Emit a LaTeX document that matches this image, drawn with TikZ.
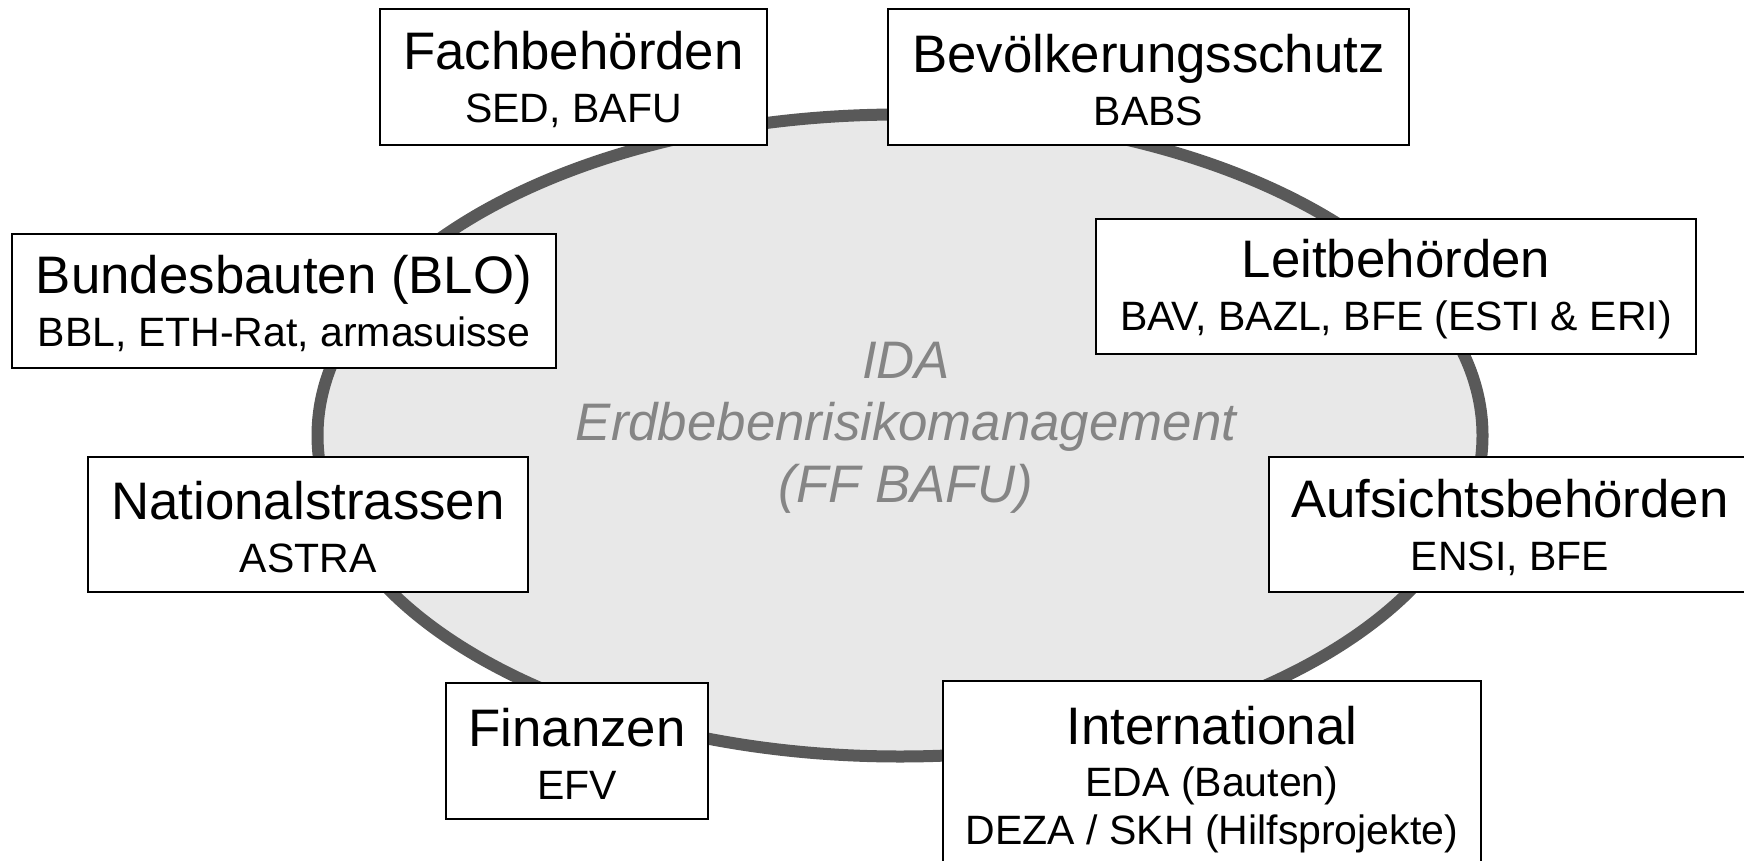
\documentclass[tikz,border=0pt]{standalone}
\usepackage{fontspec}
\setmainfont{Liberation Sans}
\newcommand{\boxtitle}{\fontsize{26.4}{24}\selectfont}
\newcommand{\boxsub}{\fontsize{20.5}{24}\selectfont}
\newcommand{\titlestrut}{\rule{0pt}{22pt}}
\definecolor{ellfill}{gray}{0.91}
\definecolor{elldraw}{gray}{0.35}
\definecolor{idatext}{gray}{0.52}
\tikzset{
  orgbox/.style={draw=black, line width=1.2pt, fill=white, align=center, font=\boxtitle, inner sep=0pt},
}
\begin{document}
\begin{tikzpicture}[x=1pt,y=-1pt]
\useasboundingbox (0,0) rectangle (872,430.5);
\pgfmathsetmacro{\ellx}{450}
\pgfmathsetmacro{\elly}{217.75}
\pgfmathsetmacro{\ellrx}{291.25}
\pgfmathsetmacro{\ellry}{160.5}
\draw[elldraw, fill=ellfill, line width=6pt] (\ellx,\elly) ellipse [x radius=\ellrx, y radius=\ellry];
\node[text=idatext, align=center, font=\fontsize{26.4}{31}\selectfont\itshape] (ida) at (453,214) {IDA\\Erdbebenrisikomanagement\\(FF BAFU)};
\node[orgbox, minimum width=193.5pt, minimum height=68pt] (fach) at (286.75,38.5) {\titlestrut Fachbehörden\\[2.5pt]{\boxsub SED, BAFU}};
\node[orgbox, minimum width=260.5pt, minimum height=68pt] (bev) at (574.25,38.5) {\titlestrut Bevölkerungsschutz\\[2.5pt]{\boxsub BABS}};
\node[orgbox, minimum width=272pt, minimum height=67pt] (bund) at (142,150.5) {\titlestrut Bundesbauten (BLO)\\[2.5pt]{\boxsub BBL, ETH-Rat, armasuisse}};
\node[orgbox, minimum width=300pt, minimum height=67.5pt] (leit) at (698,143.25) {\titlestrut Leitbehörden\\[2.5pt]{\boxsub BAV, BAZL, BFE (ESTI \& ERI)}};
\node[orgbox, minimum width=220pt, minimum height=67.5pt] (nat) at (154,262.25) {\titlestrut Nationalstrassen\\[2.5pt]{\boxsub ASTRA}};
\node[orgbox, minimum width=241pt, minimum height=67.5pt] (aufs) at (755,262.25) {\titlestrut Aufsichtsbehörden\\[2.5pt]{\boxsub ENSI, BFE}};
\node[orgbox, minimum width=131pt, minimum height=68pt] (fin) at (288.5,375.5) {\titlestrut Finanzen\\[2.5pt]{\boxsub EFV}};
\node[orgbox, minimum width=269pt, minimum height=98.5pt] (int) at (606,389.75) {International\\[2pt]{\boxsub EDA (Bauten)}\\{\boxsub DEZA / SKH (Hilfsprojekte)}};
\end{tikzpicture}
\end{document}
